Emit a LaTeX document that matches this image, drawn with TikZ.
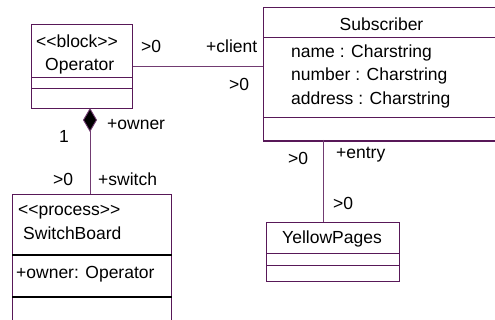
\documentclass[tikz,border=0pt]{standalone}
\usepackage{fontspec}
\setmainfont{Liberation Sans}
\usetikzlibrary{arrows.meta}
\definecolor{umlpurple}{RGB}{88,24,88}
\tikzset{
  classbox/.style={draw=umlpurple, line width=1.3pt, rectangle, inner sep=0pt, anchor=north west},
  divider/.style={draw=umlpurple, line width=1pt},
  blackdivider/.style={draw=black, line width=1.3pt},
  assoc/.style={draw=umlpurple!85, line width=0.9pt},
  txt/.style={font=\fontsize{17.5}{21}\selectfont, inner sep=0pt, anchor=base west, text=black},
}
\begin{document}
\begin{tikzpicture}[x=1pt, y=-1pt]
\useasboundingbox (0,0) rectangle (495,320);

% ---- Operator ----
\node[classbox, minimum width=101pt, minimum height=84pt] (op) at (31,24) {};
\draw[divider] (op.west |- 0,78) -- (op.east |- 0,78);
\draw[divider] (op.west |- 0,89) -- (op.east |- 0,89);
\node[txt] (opst) at (36,47.5) {<{}<block>{}>};
\node[txt] (opname) at (45,71) {Operator};

% ---- Subscriber ----
\node[classbox, minimum width=237pt, minimum height=133pt] (sub) at (263,7) {};
\draw[divider] (sub.west |- 0,38) -- (sub.east |- 0,38);
\draw[divider] (sub.west |- 0,118) -- (sub.east |- 0,118);
\draw[draw=umlpurple, line width=2pt] (sub.south west) -- (sub.south east);
\node[txt, anchor=base] (subname) at (381.5,30.5) {Subscriber};
\node[txt] (attr1) at (291,57.3) {name : Charstring};
\node[txt] (attr2) at (291,81) {number : Charstring};
\node[txt] (attr3) at (291,104.3) {address : Charstring};

% ---- SwitchBoard ----
\node[classbox, minimum width=159pt, minimum height=140pt] (sw) at (12,194) {};
\draw[blackdivider] (sw.west |- 0,255) -- (sw.east |- 0,255);
\draw[blackdivider] (sw.west |- 0,297) -- (sw.east |- 0,297);
\node[txt] (swst) at (18,216) {<{}<process>{}>};
\node[txt] (swname) at (23,240) {SwitchBoard};
\node[txt] (swattr) at (16,278.3) {+owner: Operator};

% ---- YellowPages ----
\node[classbox, minimum width=133pt, minimum height=59pt] (yp) at (266,222) {};
\draw[divider] (yp.west |- 0,254) -- (yp.east |- 0,254);
\draw[divider] (yp.west |- 0,266) -- (yp.east |- 0,266);
\node[txt] (ypname) at (282,243.3) {YellowPages};

% ---- Operator -- Subscriber ----
\draw[assoc] (op.east) -- (op.east -| sub.west);
\node[txt] (m1) at (141,53) {>0};
\node[txt] (r1) at (206,53) {+client};
\node[txt] (m2) at (229,91) {>0};

% ---- Operator <>-- SwitchBoard (composition) ----
\coordinate (own) at (90,108);
\draw[assoc, {Diamond[length=24pt,width=14pt,fill=black]}-] (own) -- (own |- sw.north);
\node[txt] (r2) at (107,129.3) {+owner};
\node[txt] (m3) at (59,142.7) {1};
\node[txt] (m4) at (53,186) {>0};
\node[txt] (r3) at (98,186) {+switch};

% ---- Subscriber -- YellowPages ----
\coordinate (ent) at (323,140);
\draw[assoc] (ent) -- (ent |- yp.north);
\node[txt] (m5) at (288,165) {>0};
\node[txt] (r4) at (336,158.3) {+entry};
\node[txt] (m6) at (333,210) {>0};
\end{tikzpicture}
\end{document}
